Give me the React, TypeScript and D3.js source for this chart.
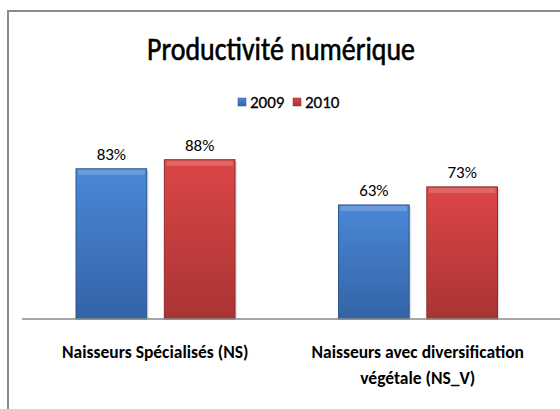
import React, { useRef, useEffect } from 'react';
import * as d3 from 'd3';

const categories = ['Naisseurs Spécialisés (NS)', 'Naisseurs avec diversification\nvégétale (NS_V)'];
const seriesNames = ['2009', '2010'];
const values2009 = [0.83, 0.63];
const values2010 = [0.88, 0.73];
const title = 'Productivité numérique';

const colors = {
  '2009': { top: '#4a88d6', bottom: '#3463a6', stroke: '#2c5593' },
  '2010': { top: '#dc4646', bottom: '#a93434', stroke: '#8f2a2a' },
};

export default function App() {
  const svgRef = useRef<SVGSVGElement>(null);

  useEffect(() => {
    const svg = d3.select(svgRef.current);
    svg.selectAll('*').remove();

    const width = 560;
    const height = 409;
    const font = "Carlito, Calibri, Lato, sans-serif";

    svg.append('rect').attr('width', width).attr('height', height).attr('fill', '#fff');

    // outer frame (cropped on the right and bottom)
    svg.append('rect')
      .attr('x', 8).attr('y', 11)
      .attr('width', 700).attr('height', 600)
      .attr('fill', 'none').attr('stroke', '#8a8a8a').attr('stroke-width', 2);

    const defs = svg.append('defs');
    seriesNames.forEach(s => {
      const g = defs.append('linearGradient').attr('id', 'g' + s)
        .attr('x1', 0).attr('y1', 0).attr('x2', 0).attr('y2', 1);
      g.append('stop').attr('offset', '0%').attr('stop-color', colors[s].top);
      g.append('stop').attr('offset', '100%').attr('stop-color', colors[s].bottom);
    });

    const x0 = d3.scaleBand().domain(categories).range([24, 549]).paddingInner(0).paddingOuter(0);
    const x1 = d3.scaleBand().domain(seriesNames).range([52, 211]).paddingInner(0.2);
    const y = d3.scaleLinear().domain([0, 1]).range([319, 138]);

    const data = categories.map((c, i) => ({ cat: c, vals: [values2009[i], values2010[i]] }));

    const groups = svg.append('g').selectAll('g').data(data).join('g')
      .attr('transform', d => `translate(${x0(d.cat)},0)`);

    groups.each(function (d) {
      const g = d3.select(this);
      d.vals.forEach((v, j) => {
        const s = seriesNames[j];
        const bx = x1(s)!;
        const bw = x1.bandwidth();
        g.append('rect')
          .attr('x', bx + 2).attr('y', y(v) + 2)
          .attr('width', bw).attr('height', y(0) - y(v) - 2)
          .attr('fill', '#000').attr('opacity', 0.12);
        g.append('rect')
          .attr('x', bx).attr('y', y(v))
          .attr('width', bw).attr('height', y(0) - y(v))
          .attr('fill', `url(#g${s})`)
          .attr('stroke', colors[s].stroke).attr('stroke-width', 1);
        // bevel highlight
        g.append('rect')
          .attr('x', bx + 2).attr('y', y(v) + 1)
          .attr('width', bw - 4).attr('height', 5)
          .attr('fill', '#fff').attr('opacity', 0.18);
        g.append('text')
          .attr('x', bx + bw / 2).attr('y', y(v) - 9)
          .attr('text-anchor', 'middle')
          .style('font-family', font).style('font-size', '17px').attr('fill', '#000')
          .text(d3.format('.0%')(v));
      });
    });

    // category axis
    svg.append('line')
      .attr('x1', 22).attr('x2', width).attr('y1', y(0)).attr('y2', y(0))
      .attr('stroke', '#8a8a8a').attr('stroke-width', 1.5);

    categories.forEach(c => {
      const lines = c.split('\n');
      const t = svg.append('text')
        .attr('text-anchor', 'middle')
        .style('font-family', font).style('font-size', '17.5px').style('font-weight', 'bold')
        .attr('fill', '#000');
      lines.forEach((l, k) => {
        t.append('tspan')
          .attr('x', x0(c)! + x0.bandwidth() / 2)
          .attr('y', 358 + k * 26)
          .text(l);
      });
    });

    // title
    svg.append('text')
      .attr('x', 281).attr('y', 60)
      .attr('text-anchor', 'middle')
      .attr('textLength', 268).attr('lengthAdjust', 'spacingAndGlyphs')
      .style('font-family', font).style('font-size', '32px')
      .attr('fill', '#000').attr('stroke', '#000').attr('stroke-width', 0.6)
      .text(title);

    // legend
    const legend = svg.append('g').attr('transform', 'translate(238,0)');
    seriesNames.forEach((s, i) => {
      const lx = i * 55;
      legend.append('rect')
        .attr('x', lx).attr('y', 98).attr('width', 8).attr('height', 8)
        .attr('fill', `url(#g${s})`).attr('stroke', colors[s].stroke).attr('stroke-width', 0.5);
      legend.append('text')
        .attr('x', lx + 12).attr('y', 108)
        .style('font-family', font).style('font-size', '17px')
        .attr('fill', '#000').attr('stroke', '#000').attr('stroke-width', 0.3)
        .text(s);
    });
  }, []);

  return (
    <svg ref={svgRef} width={560} height={409}
      style={{ position: 'absolute', left: 0, top: 0 }} />
  );
}
